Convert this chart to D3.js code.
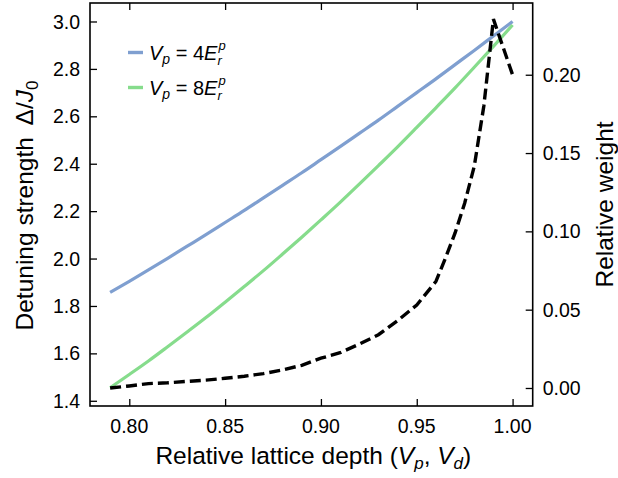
<!DOCTYPE html>
<html>
<head>
<meta charset="utf-8">
<script src="https://cdn.jsdelivr.net/npm/d3@7"></script>
<style>
  body { margin: 0; background: #fff; }
  svg { display: block; font-family: 'Liberation Sans', Arial, Helvetica, sans-serif; }
</style>
</head>
<body>
<div id="chart"></div>
<script>
// lattice depth samples
const depth = [0.79, 0.80, 0.81, 0.82, 0.83, 0.84, 0.85, 0.86, 0.87, 0.88, 0.89,
  0.90, 0.91, 0.92, 0.93, 0.94, 0.95, 0.96, 0.97, 0.98, 0.99, 1.00];
// detuning strength, Vp = 4Er
const detuning4 = [1.857, 1.904, 1.952, 2.001, 2.051, 2.101, 2.152, 2.203, 2.256, 2.309, 2.362,
  2.417, 2.472, 2.528, 2.584, 2.642, 2.700, 2.758, 2.818, 2.878, 2.939, 3.000];
// detuning strength, Vp = 8Er
const detuning8 = [1.455, 1.511, 1.568, 1.628, 1.689, 1.751, 1.816, 1.882, 1.949, 2.019, 2.090,
  2.163, 2.237, 2.314, 2.392, 2.471, 2.553, 2.636, 2.720, 2.807, 2.895, 2.985];
// relative weight (dashed, right axis)
const weightDepth = [0.79, 0.80, 0.81, 0.82, 0.83, 0.84, 0.85, 0.86, 0.87, 0.88, 0.89, 0.90,
  0.91, 0.92, 0.93, 0.94, 0.95, 0.96, 0.965, 0.97, 0.975, 0.98, 0.985, 0.99, 1.00];
const weight = [0.000, 0.0013, 0.0028, 0.0033, 0.0042, 0.005, 0.0062, 0.0075, 0.0092, 0.0115, 0.0145, 0.019,
  0.0225, 0.028, 0.034, 0.043, 0.053, 0.068, 0.083, 0.099, 0.118, 0.1415, 0.180, 0.2355, 0.200];

const xTicks = [0.80, 0.85, 0.90, 0.95, 1.00];
const yLeftTicks = [1.4, 1.6, 1.8, 2.0, 2.2, 2.4, 2.6, 2.8, 3.0];
const yRightTicks = [0.00, 0.05, 0.10, 0.15, 0.20];

const W = 618, H = 478;
const margin = { top: 3, right: 85.3, bottom: 72, left: 90 };
const tickFont = 19.5, labelFont = 24.5;

const svg = d3.select("#chart").append("svg")
  .attr("width", W).attr("height", H);
svg.append("rect").attr("width", W).attr("height", H).attr("fill", "#fff");

const x = d3.scaleLinear().domain([0.7795, 1.0105]).range([margin.left, W - margin.right]);
const yL = d3.scaleLinear().domain([1.378, 3.078]).range([H - margin.bottom, margin.top]);
const yR = d3.scaleLinear().domain([-0.0115, 0.2458]).range([H - margin.bottom, margin.top]);

const x0 = margin.left, x1 = W - margin.right, yTop = margin.top, yBot = H - margin.bottom;

// lines
const lineD = d3.line().x((d, i) => x(depth[i])).y(d => yL(d)).curve(d3.curveMonotoneX);
const lineW = d3.line().x((d, i) => x(weightDepth[i])).y(d => yR(d));

svg.append("path").datum(detuning4)
  .attr("d", lineD).attr("fill", "none")
  .attr("stroke", "#7f9fd0").attr("stroke-width", 3.2);
svg.append("path").datum(detuning8)
  .attr("d", lineD).attr("fill", "none")
  .attr("stroke", "#86dc8c").attr("stroke-width", 3.2);
svg.append("path").datum(weight)
  .attr("d", lineW).attr("fill", "none")
  .attr("stroke", "#000").attr("stroke-width", 3.4)
  .attr("stroke-dasharray", "11,5");

// axes (ticks inward)
svg.append("g").attr("transform", "translate(0," + yBot + ")")
  .call(d3.axisTop(x).tickValues(xTicks).tickSize(7).tickFormat(""));
svg.append("g").attr("transform", "translate(0," + yTop + ")")
  .call(d3.axisBottom(x).tickValues(xTicks).tickSize(7).tickFormat(""));
svg.append("g").attr("transform", "translate(" + x0 + ",0)")
  .call(d3.axisRight(yL).tickValues(yLeftTicks).tickSize(7).tickFormat(""));
svg.append("g").attr("transform", "translate(" + x1 + ",0)")
  .call(d3.axisLeft(yR).tickValues(yRightTicks).tickSize(7).tickFormat(""));
svg.selectAll(".domain").remove();
svg.selectAll(".tick line").attr("stroke", "#000").attr("stroke-width", 1.3);

// tick labels
svg.selectAll(".xlab").data(xTicks).enter().append("text")
  .attr("x", d => x(d)).attr("y", yBot + 27)
  .attr("text-anchor", "middle").attr("font-size", tickFont)
  .text(d => d3.format(".2f")(d));
svg.selectAll(".ylab").data(yLeftTicks).enter().append("text")
  .attr("x", x0 - 10).attr("y", d => yL(d)).attr("dy", "0.36em")
  .attr("text-anchor", "end").attr("font-size", tickFont)
  .text(d => d3.format(".1f")(d));
svg.selectAll(".yrlab").data(yRightTicks).enter().append("text")
  .attr("x", x1 + 10).attr("y", d => yR(d)).attr("dy", "0.36em")
  .attr("text-anchor", "start").attr("font-size", tickFont)
  .text(d => d3.format(".2f")(d));

// frame
svg.append("rect").attr("x", x0).attr("y", yTop)
  .attr("width", x1 - x0).attr("height", yBot - yTop)
  .attr("fill", "none").attr("stroke", "#000").attr("stroke-width", 1.6);

// x label
const xl = svg.append("text").attr("x", (x0 + x1) / 2 + 2).attr("y", yBot + 58)
  .attr("text-anchor", "middle").attr("font-size", labelFont);
xl.append("tspan").text("Relative lattice depth (");
xl.append("tspan").attr("font-style", "italic").text("V");
xl.append("tspan").attr("font-style", "italic").attr("font-size", 17).attr("dy", 5).text("p");
xl.append("tspan").attr("dy", -5).text(", ");
xl.append("tspan").attr("font-style", "italic").text("V");
xl.append("tspan").attr("font-style", "italic").attr("font-size", 17).attr("dy", 5).text("d");
xl.append("tspan").attr("dy", -5).text(")");

// left label
const yl = svg.append("text")
  .attr("transform", "translate(33," + ((yTop + yBot) / 2 + 1) + ") rotate(-90)")
  .attr("text-anchor", "middle").attr("font-size", labelFont);
yl.append("tspan").text("Detuning strength \u2009\u0394/");
yl.append("tspan").attr("font-style", "italic").text("J");
yl.append("tspan").attr("font-size", 17).attr("dy", 5).text("0");

// right label
svg.append("text")
  .attr("transform", "translate(613," + ((yTop + yBot) / 2) + ") rotate(-90)")
  .attr("text-anchor", "middle").attr("font-size", labelFont)
  .text("Relative weight");

// legend
const legendItems = [
  { color: "#7f9fd0", num: "4" },
  { color: "#86dc8c", num: "8" }
];
legendItems.forEach((it, i) => {
  const ly = 52.5 + i * 35;
  svg.append("line").attr("x1", 128).attr("x2", 143).attr("y1", ly).attr("y2", ly)
    .attr("stroke", it.color).attr("stroke-width", 3.4);
  const t = svg.append("text").attr("x", 149).attr("y", ly + 7).attr("font-size", 20);
  t.append("tspan").attr("font-style", "italic").text("V");
  t.append("tspan").attr("font-style", "italic").attr("font-size", 14).attr("dy", 4).text("p");
  t.append("tspan").attr("dy", -4).text(" = " + it.num);
  t.append("tspan").attr("font-style", "italic").text("E");
  const len = t.node().getComputedTextLength();
  svg.append("text").attr("x", 149 + len + 1).attr("y", ly - 3)
    .attr("font-size", 13).attr("font-style", "italic").text("p");
  svg.append("text").attr("x", 149 + len).attr("y", ly + 12.5)
    .attr("font-size", 13).attr("font-style", "italic").text("r");
});
</script>
</body>
</html>
